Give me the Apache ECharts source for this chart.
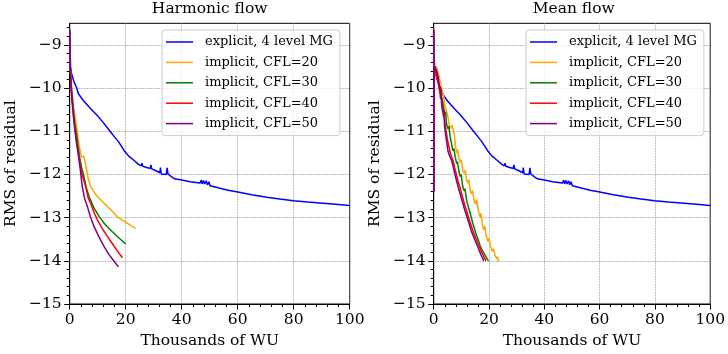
<!DOCTYPE html>
<html>
<head>
<meta charset="utf-8">
<script src="https://cdn.jsdelivr.net/npm/echarts@6/dist/echarts.min.js"></script>
<style>
  html, body { margin: 0; padding: 0; background: #fff; }
  #myChart { width: 728px; height: 354px; }
</style>
</head>
<body>
<div id="myChart"></div>
<script>
// 数据 [千WU, RMS]
var seriesNames = ['explicit, 4 level MG', 'implicit, CFL=20', 'implicit, CFL=30', 'implicit, CFL=40', 'implicit, CFL=50'];
var seriesColors = ['#0000ff', '#ffa500', '#008000', '#ff0000', '#800080'];
var panelTitles = ['Harmonic flow', 'Mean flow'];
var yTicks = [-15, -14, -13, -12, -11, -10, -9];
var xTicks = [0, 20, 40, 60, 80, 100];

// explicit MG is the same run in both panels
var explicitMG = [[0,-8.7],[0.3,-9.5],[0.6,-9.65],[1.5,-9.85],[2.5,-10.0],[3.1,-10.13],[5,-10.3],[7.5,-10.48],[9.6,-10.62],[12,-10.8],[14.4,-11.0],[16,-11.13],[17.4,-11.24],[18.5,-11.35],[19.7,-11.47],[21,-11.57],[22.7,-11.66],[24.5,-11.76],[25.5,-11.8],[25.8,-11.74],[26.1,-11.81],[27.5,-11.84],[28.8,-11.86],[29.0,-11.78],[29.3,-11.87],[31,-11.92],[32.2,-11.96],[32.4,-11.84],[32.7,-11.99],[34.5,-12.0],[34.8,-11.85],[35.1,-11.99],[36.3,-12.05],[37.5,-12.1],[40,-12.13],[43,-12.17],[46.5,-12.2],[47,-12.13],[47.3,-12.22],[47.8,-12.14],[48.2,-12.22],[48.8,-12.15],[49.2,-12.24],[49.7,-12.17],[50.1,-12.26],[53.7,-12.32],[57,-12.37],[59.6,-12.4],[65,-12.47],[70.4,-12.53],[75,-12.57],[79.9,-12.61],[85,-12.64],[89.4,-12.66],[95,-12.69],[100,-12.72]];

// Harmonic flow, implicit
var harmCFL20 = [[0,-8.65],[0.2,-9.5],[0.5,-9.85],[0.8,-10.05],[1.3,-10.42],[2.0,-10.7],[2.6,-10.95],[3.3,-11.31],[3.9,-11.5],[4.3,-11.6],[4.6,-11.58],[5.1,-11.58],[5.4,-11.6],[5.9,-11.85],[6.6,-12.1],[7.5,-12.28],[8.6,-12.4],[9.9,-12.51],[11.5,-12.62],[13.5,-12.74],[15.3,-12.86],[17.0,-12.98],[18.8,-13.06],[20.6,-13.13],[22.0,-13.19],[23.5,-13.25]];
var harmCFL30 = [[0,-8.65],[0.2,-9.5],[0.5,-9.9],[0.9,-10.2],[1.4,-10.55],[1.9,-10.85],[2.4,-11.05],[3.0,-11.35],[3.6,-11.62],[4.3,-11.85],[5.1,-12.05],[5.9,-12.3],[6.9,-12.51],[8.7,-12.78],[10.5,-12.97],[12.3,-13.13],[14.0,-13.25],[15.8,-13.36],[17.9,-13.49],[20.0,-13.61]];
var harmCFL40 = [[0,-8.65],[0.2,-9.5],[0.5,-9.95],[0.9,-10.3],[1.4,-10.65],[1.9,-10.95],[2.5,-11.25],[3.1,-11.5],[3.8,-11.8],[4.6,-12.05],[5.7,-12.28],[6.6,-12.55],[7.5,-12.67],[8.7,-12.88],[9.9,-13.05],[11.7,-13.26],[13.5,-13.44],[15.2,-13.6],[17.0,-13.77],[18.8,-13.93]];
var harmCFL50 = [[0,-8.65],[0.2,-9.55],[0.5,-10.0],[0.9,-10.35],[1.4,-10.7],[1.9,-11.0],[2.5,-11.3],[3.1,-11.55],[3.7,-11.85],[4.5,-12.28],[5.3,-12.55],[6.3,-12.74],[7.4,-12.98],[8.7,-13.21],[10.5,-13.45],[12.3,-13.67],[14.0,-13.85],[15.7,-14.0],[17.4,-14.14]];

// Mean flow, implicit
var meanCFL20 = [[0,-8.65],[0.08,-12.4],[0.25,-9.75],[0.7,-9.6],[1.0,-9.5],[1.6,-9.53],[2.2,-9.8],[2.8,-9.96],[3.2,-9.92],[3.6,-10.2],[4.0,-10.39],[4.4,-10.35],[4.9,-10.6],[5.4,-10.75],[5.8,-10.95],[6.3,-10.9],[6.6,-10.85],[7.0,-10.82],[7.4,-11.05],[7.9,-11.35],[8.3,-11.5],[8.6,-11.42],[9.0,-11.6],[9.6,-11.72],[10.0,-11.66],[10.5,-11.9],[11.0,-11.97],[11.4,-11.9],[11.9,-12.13],[12.3,-12.2],[12.7,-12.12],[13.2,-12.38],[13.6,-12.45],[14.0,-12.37],[14.6,-12.6],[15.1,-12.68],[15.5,-12.58],[16.2,-12.85],[16.7,-12.98],[17.1,-12.9],[17.6,-13.15],[18.1,-13.28],[18.5,-13.2],[19.0,-13.42],[19.6,-13.55],[20.0,-13.48],[20.6,-13.68],[21.2,-13.78],[21.6,-13.72],[22.2,-13.88],[22.8,-13.95],[23.1,-13.9],[23.4,-14.02]];
var meanCFL30 = [[0,-8.65],[0.08,-12.4],[0.2,-9.7],[0.6,-9.55],[1.0,-9.6],[1.5,-9.75],[2.0,-9.95],[2.4,-10.05],[2.8,-10.2],[3.2,-10.3],[3.6,-10.45],[4.0,-10.6],[4.3,-10.55],[4.7,-10.85],[5.2,-10.95],[5.5,-10.88],[6.0,-11.15],[6.5,-11.3],[6.9,-11.45],[7.3,-11.4],[7.8,-11.6],[8.3,-11.75],[8.6,-11.7],[9.1,-11.92],[9.6,-12.05],[9.9,-12.0],[10.5,-12.28],[11.0,-12.38],[11.3,-12.33],[11.9,-12.6],[12.4,-12.72],[12.7,-12.68],[13.3,-12.92],[13.8,-13.05],[14.1,-13.02],[14.7,-13.25],[15.3,-13.38],[15.6,-13.35],[16.3,-13.55],[16.8,-13.65],[17.5,-13.75],[18.2,-13.83],[19.0,-13.92],[19.8,-14.0]];
var meanCFL40 = [[0,-8.65],[0.08,-12.4],[0.2,-9.65],[0.6,-9.6],[1.0,-9.7],[1.5,-9.85],[2.0,-10.0],[2.5,-10.25],[2.8,-10.2],[3.2,-10.5],[3.5,-10.65],[3.8,-10.6],[4.2,-10.9],[4.5,-11.0],[5.0,-11.2],[5.5,-11.35],[6.0,-11.5],[6.5,-11.6],[7.0,-11.68],[7.6,-11.85],[8.2,-12.0],[8.8,-12.15],[9.4,-12.28],[10.0,-12.42],[10.6,-12.56],[11.2,-12.7],[11.8,-12.82],[12.4,-12.95],[13.0,-13.07],[13.6,-13.19],[14.1,-13.29],[14.7,-13.39],[15.3,-13.49],[15.9,-13.58],[16.5,-13.67],[17.2,-13.78],[17.8,-13.86],[18.4,-13.94],[18.9,-14.0]];
var meanCFL50 = [[0,-8.65],[0.08,-12.4],[0.2,-9.6],[0.46,-9.5],[1.0,-9.6],[1.65,-9.77],[2.2,-10.05],[2.5,-10.0],[2.9,-10.4],[3.3,-10.55],[3.6,-10.5],[4.0,-10.93],[4.6,-11.2],[5.2,-11.47],[5.8,-11.58],[6.4,-11.66],[6.9,-11.78],[7.6,-11.98],[8.2,-12.13],[8.8,-12.28],[9.4,-12.42],[10.0,-12.55],[10.6,-12.68],[11.2,-12.82],[11.8,-12.94],[12.4,-13.06],[13.0,-13.18],[13.5,-13.29],[14.1,-13.39],[14.7,-13.49],[15.3,-13.58],[15.9,-13.67],[16.5,-13.77],[17.1,-13.86],[17.6,-13.93],[18.1,-14.0]];

var panelData = [
  [explicitMG, harmCFL20, harmCFL30, harmCFL40, harmCFL50],
  [explicitMG, meanCFL20, meanCFL30, meanCFL40, meanCFL50]
];

var FONT = 'DejaVu Serif';
var FS = 15.5;          // tick labels, titles, axis names
var LEGEND_FS = 13;
var gridLefts = [69.7, 433.7];
var gridWidth = 280;

// y minor ticks every 0.2
var yMinor = [];
for (var v = -15; v <= -8.5; v += 0.2) {
  var r = Math.round(v * 10) / 10;
  if (Math.abs(r - Math.round(r)) > 1e-6) yMinor.push(r);
}

// plain line as legend icon (box 27x14, bar in the middle)
var LINE_ICON = 'path://M0,0L0,0M0,6.25L27,6.25L27,7.75L0,7.75ZM27,14L27,14';

function minus(val) {
  return String(val).replace('-', '\u2212');
}

var myChart = echarts.init(document.getElementById('myChart'));

var option = {
  animation: false,
  textStyle: { fontFamily: FONT },
  title: [],
  legend: [],
  grid: [],
  xAxis: [],
  yAxis: [],
  series: []
};

panelTitles.forEach(function (t, p) {
  option.title.push({
    text: t,
    left: gridLefts[p] + gridWidth / 2,
    textAlign: 'center',
    top: 1,
    padding: 0,
    textStyle: { fontFamily: FONT, fontSize: FS, fontWeight: 'normal', color: '#000' }
  });
  option.grid.push({
    left: gridLefts[p],
    width: gridWidth,
    top: 23.3,
    height: 280.7,
    show: true,
    borderColor: '#000',
    borderWidth: 1,
    backgroundColor: 'transparent'
  });
  option.legend.push({
    data: seriesNames,
    icon: LINE_ICON,
    orient: 'vertical',
    left: 162 + p * 364,
    top: 30,
    padding: [5, 7, 5, 4],
    itemWidth: 27,
    itemHeight: 14,
    itemGap: 6.4,
    backgroundColor: 'rgba(255,255,255,0.8)',
    borderColor: '#cccccc',
    borderWidth: 1,
    borderRadius: 3,
    textStyle: { fontFamily: FONT, fontSize: LEGEND_FS, color: '#000', padding: [0, 0, 0, 7] }
  });
  option.xAxis.push({
    type: 'value',
    gridIndex: p,
    min: 0,
    max: 100,
    interval: 20,
    name: 'Thousands of WU',
    nameLocation: 'middle',
    nameGap: 28,
    nameTextStyle: { fontFamily: FONT, fontSize: FS, color: '#000' },
    axisLine: { onZero: false, lineStyle: { color: '#000', width: 1 } },
    axisTick: { length: 5.5, lineStyle: { color: '#000' } },
    minorTick: { show: true, splitNumber: 5, length: 3, lineStyle: { color: '#000' } },
    axisLabel: { fontFamily: FONT, fontSize: FS, color: '#000', margin: 8 },
    splitLine: { show: true, lineStyle: { color: '#888', type: 'dotted', width: 0.8 } }
  });
  // main y axis
  option.yAxis.push({
    type: 'value',
    gridIndex: p,
    position: 'left',
    min: -15,
    max: -8.5,
    interval: 1,
    name: 'RMS of residual',
    nameLocation: 'middle',
    nameGap: 51,
    nameTextStyle: { fontFamily: FONT, fontSize: FS, color: '#000' },
    axisLine: { onZero: false, lineStyle: { color: '#000', width: 1 } },
    axisTick: { length: 5.5, customValues: yTicks, lineStyle: { color: '#000' } },
    axisLabel: { fontFamily: FONT, fontSize: FS, color: '#000', margin: 8, customValues: yTicks, formatter: minus },
    splitLine: { show: true, lineStyle: { color: '#888', type: 'dotted', width: 0.8 } }
  });
  // minor y ticks only
  option.yAxis.push({
    type: 'value',
    gridIndex: p,
    position: 'left',
    min: -15,
    max: -8.5,
    axisLine: { show: false, onZero: false },
    axisTick: { show: true, length: 3, customValues: yMinor, lineStyle: { color: '#000' } },
    axisLabel: { show: false },
    splitLine: { show: false }
  });

  panelData[p].forEach(function (d, i) {
    option.series.push({
      name: seriesNames[i],
      type: 'line',
      xAxisIndex: p,
      yAxisIndex: p * 2,
      data: d,
      symbol: 'none',
      color: seriesColors[i],
      lineStyle: { color: seriesColors[i], width: 1.5 },
      z: 2 + i
    });
  });
});

myChart.setOption(option);
</script>
</body>
</html>
